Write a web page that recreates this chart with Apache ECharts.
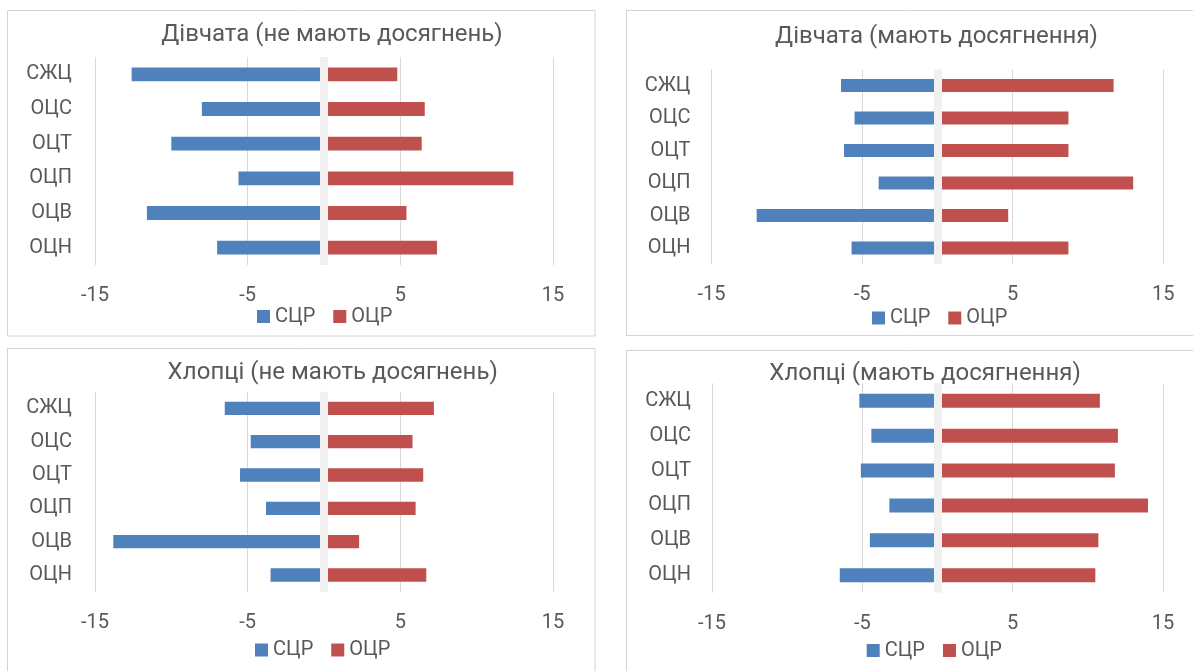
<!DOCTYPE html>
<html>
<head>
<meta charset="utf-8">
<script src="https://cdn.jsdelivr.net/npm/echarts@6/dist/echarts.min.js"></script>
<style>
html,body{margin:0;padding:0;background:#fff;}
#c{width:1193px;height:671px;}
</style>
</head>
<body>
<div id="c"></div>
<script>
// ---- data ----
var categories = ['СЖЦ','ОЦС','ОЦТ','ОЦП','ОЦВ','ОЦН'];
var seriesNames = ['СЦР','ОЦР'];
var titles = ['Дівчата (не мають досягнень)','Дівчата (мають досягнення)','Хлопці (не мають досягнень)','Хлопці (мають досягнення)'];
var xTickMin = -15, xTickMax = 15, xTickStep = 10;
var girlsNoSCR  = [-12.6, -8.0, -10.0, -5.6, -11.6, -7.0];
var girlsNoOCR  = [4.8, 6.6, 6.4, 12.4, 5.4, 7.4];
var girlsYesSCR = [-6.4, -5.5, -6.2, -3.9, -12.0, -5.7];
var girlsYesOCR = [11.7, 8.7, 8.7, 13.0, 4.7, 8.7];
var boysNoSCR   = [-6.5, -4.8, -5.5, -3.8, -13.8, -3.5];
var boysNoOCR   = [7.2, 5.8, 6.5, 6.0, 2.3, 6.7];
var boysYesSCR  = [-5.2, -4.4, -5.1, -3.2, -4.5, -6.5];
var boysYesOCR  = [10.8, 12.0, 11.8, 14.0, 10.7, 10.5];

var panelData = [
  [girlsNoSCR, girlsNoOCR],
  [girlsYesSCR, girlsYesOCR],
  [boysNoSCR, boysNoOCR],
  [boysYesSCR, boysYesOCR]
];

// ---- layout ----
var FONT = 'Roboto';
var TXT = '#595959';
var BLUE = '#4F81BD', RED = '#C0504D';
var grids = [
  {left: 95,  right: 640, top: 57,    height: 208},
  {left: 711.5, right: 29.7, top: 69.3, height: 195},
  {left: 95,  right: 640, top: 391.7, height: 200},
  {left: 712, right: 30, top: 383.3, height: 209.4}
];
var titlePos = [[332, 21], [936.5, 22.7], [332.7, 359], [925, 360]];
var legendPos = [[257, 306.5], [872, 308], [255, 640], [866.7, 640.5]];
var borders = [[7.5, 10.5, 587.5, 325.5], [626.5, 10.5, 600, 325], [7.5, 348.5, 587.5, 400], [626.5, 350.5, 600, 400]];

var option = {
  backgroundColor: '#fff',
  animation: false,
  textStyle: {fontFamily: FONT},
  title: [], legend: [], grid: [], xAxis: [], yAxis: [], series: [],
  graphic: borders.map(function (b) {
    return {type: 'rect', shape: {x: b[0], y: b[1], width: b[2], height: b[3]},
      style: {fill: 'none', stroke: '#d4d4d4', lineWidth: 1}, z: 0, silent: true};
  })
};

for (var i = 0; i < 4; i++) {
  option.grid.push(grids[i]);
  option.title.push({
    text: titles[i], left: titlePos[i][0], top: titlePos[i][1], textAlign: 'center', padding: 0,
    textStyle: {fontFamily: FONT, fontSize: 24, fontWeight: 'normal', color: TXT, lineHeight: 28}
  });
  option.legend.push({
    data: seriesNames, left: legendPos[i][0], top: legendPos[i][1], padding: 0,
    icon: 'rect', itemWidth: 13, itemHeight: 13, itemGap: 18,
    textStyle: {fontFamily: FONT, fontSize: 20, color: TXT}
  });
  option.xAxis.push({
    type: 'value', gridIndex: i, min: xTickMin, max: xTickMax, interval: xTickStep,
    axisLine: {show: false}, axisTick: {show: false},
    axisLabel: {fontFamily: FONT, fontSize: 20, color: TXT, margin: 21},
    splitLine: {lineStyle: {color: '#d9d9d9', width: 1}}
  });
  option.yAxis.push({
    type: 'category', gridIndex: i, data: categories, inverse: true,
    axisLine: {show: false, onZero: false}, axisTick: {show: false},
    axisLabel: {fontFamily: FONT, fontSize: 20, color: TXT, margin: i % 2 === 0 ? 23 : 21}
  });
  option.yAxis.push({
    type: 'category', gridIndex: i, data: categories, inverse: true, z: 10,
    axisLine: {show: true, onZero: true, lineStyle: {color: '#f0f0f0', width: 8, cap: 'butt'}},
    axisTick: {show: false}, axisLabel: {show: false}, splitLine: {show: false}
  });
  option.series.push({
    name: seriesNames[0], type: 'bar', xAxisIndex: i, yAxisIndex: 2 * i,
    data: panelData[i][0], barWidth: '40%', barGap: '-100%',
    itemStyle: {color: BLUE}
  });
  option.series.push({
    name: seriesNames[1], type: 'bar', xAxisIndex: i, yAxisIndex: 2 * i,
    data: panelData[i][1], barWidth: '40%', barGap: '-100%',
    itemStyle: {color: RED}
  });
}

var chart = echarts.init(document.getElementById('c'), null, {renderer: 'canvas'});
chart.setOption(option);
</script>
</body>
</html>
